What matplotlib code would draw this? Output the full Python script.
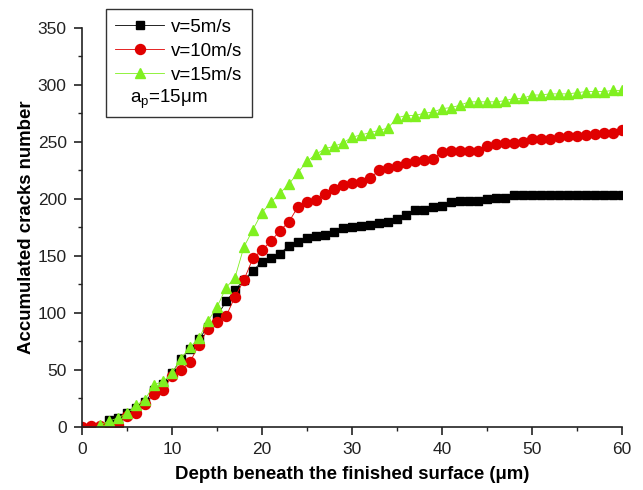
import matplotlib
matplotlib.use("Agg")
import matplotlib.pyplot as plt
from matplotlib.lines import Line2D
from matplotlib.ticker import MultipleLocator

plt.rcParams["font.family"] = ["Liberation Sans", "DejaVu Sans"]

# depth (um) and accumulated crack counts
depth_5 = list(range(3, 61))
cracks_5 = [6, 8, 12, 17, 22, 32, 38, 47, 60, 68, 77, 88, 97, 110, 120, 129, 137, 145,
            148, 152, 159, 162, 166, 167, 168, 171, 174, 175, 176, 177, 179, 180, 182,
            186, 190, 190, 193, 194, 197, 198, 198, 198, 200, 201, 201, 203, 203, 203,
            203, 203, 203, 203, 203, 203, 203, 203, 203, 203]

depth_10 = list(range(0, 61))
cracks_10 = [0, 1, 1, 1, 2, 10, 12, 20, 29, 32, 45, 50, 57, 72, 86, 92, 97, 114, 129,
             148, 155, 163, 172, 180, 193, 197, 199, 204, 209, 212, 214, 215, 218, 225,
             227, 229, 231, 233, 234, 235, 241, 242, 242, 242, 242, 246, 248, 249, 249,
             250, 252, 252, 252, 254, 255, 255, 256, 257, 258, 258, 260]

depth_15 = list(range(2, 61))
cracks_15 = [2, 5, 8, 12, 19, 24, 37, 40, 47, 60, 70, 78, 93, 105, 122, 131, 158, 173,
             188, 197, 205, 213, 223, 233, 239, 244, 246, 249, 254, 256, 258, 260, 262,
             271, 273, 273, 275, 276, 279, 280, 282, 285, 285, 285, 285, 286, 288, 288,
             291, 291, 292, 292, 292, 293, 294, 294, 294, 295, 295]

labels = ["v=5m/s", "v=10m/s", "v=15m/s"]
colors = ["black", "#e00000", "#80f020"]

fig = plt.figure(figsize=(6.43, 4.90), dpi=100)
ax = fig.add_axes([0.1275, 0.1286, 0.8398, 0.8149])

ax.plot(depth_5, cracks_5, color=colors[0], lw=0.6, marker="s", ms=5.6,
        mec=colors[0], mfc=colors[0], label=labels[0])
ax.plot(depth_10, cracks_10, color=colors[1], lw=0.6, marker="o", ms=7.2,
        mec=colors[1], mfc=colors[1], label=labels[1])
ax.plot(depth_15, cracks_15, color=colors[2], lw=0.6, marker="^", ms=7.6,
        mec=colors[2], mfc=colors[2], label=labels[2])

ax.set_xlim(0, 60)
ax.set_ylim(0, 350)
ax.xaxis.set_major_locator(MultipleLocator(10))
ax.xaxis.set_minor_locator(MultipleLocator(5))
ax.yaxis.set_major_locator(MultipleLocator(50))
ax.yaxis.set_minor_locator(MultipleLocator(25))

for side in ["top", "right"]:
    ax.spines[side].set_visible(False)
for side in ["left", "bottom"]:
    ax.spines[side].set_linewidth(1.2)
    ax.spines[side].set_color("#222222")

ax.tick_params(which="major", direction="out", length=6, width=1.2,
               labelsize=12.5, colors="#222222", pad=5)
ax.tick_params(which="minor", direction="out", length=3, width=1.0, colors="#222222")

ax.set_xlabel("Depth beneath the finished surface (\u03bcm)", fontsize=13.4,
              fontweight="bold", labelpad=6)
ax.set_ylabel("Accumulated cracks number", fontsize=13.4, fontweight="bold", labelpad=2)

handles, lbls = ax.get_legend_handles_labels()
handles.append(Line2D([], [], linestyle="none"))
lbls.append(" ")
leg = ax.legend(handles, lbls, loc="upper left", bbox_to_anchor=(0.044, 1.047),
                borderaxespad=0, fontsize=13.5, handlelength=2.6, handletextpad=0.35,
                labelspacing=0.36, frameon=True, fancybox=False, borderpad=0.52,
                framealpha=1)
leg.get_frame().set_edgecolor("#333333")
leg.get_frame().set_linewidth(1.0)
leg.set_clip_on(False)
for h in leg.legend_handles:
    h.set_linewidth(0.6)

fig.text(130 / 643, 1 - 99 / 490, "a$_\\mathregular{p}$=15\u03bcm", fontsize=13.5,
         va="center", ha="left")

fig.savefig("out.png", dpi=100)
